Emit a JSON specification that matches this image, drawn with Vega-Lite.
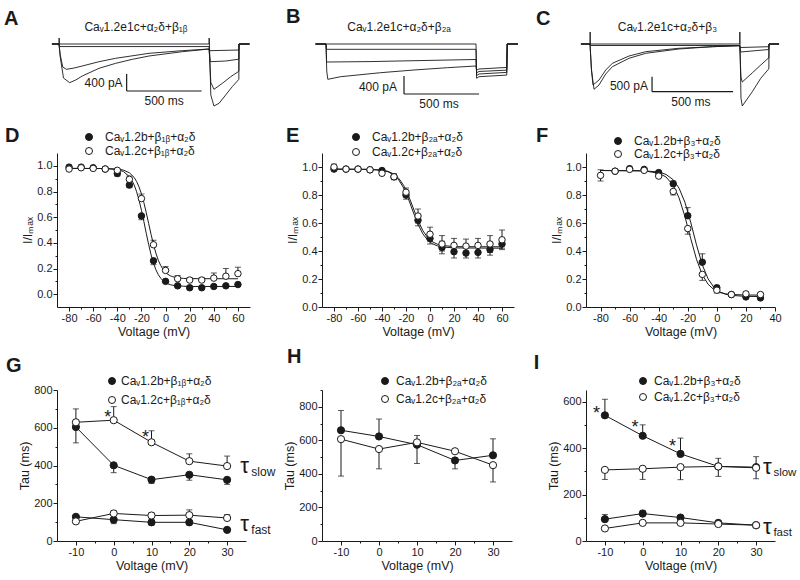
{
"$schema": "https://vega.github.io/schema/vega-lite/v6.json",
"padding": {"left": 3, "top": 7, "right": 14, "bottom": 4},
"bounds": "flush",
"columns": 3,
"spacing": {"row": 83, "column": 72},
"resolve": {"scale": {"fill": "independent"}},
"config": {
  "view": {"stroke": null},
  "font": "Liberation Sans",
  "text": {"font": "Liberation Sans", "color": "#1a1a1a"},
  "axis": {"domainColor": "#1a1a1a", "tickColor": "#1a1a1a", "labelColor": "#1a1a1a", "titleColor": "#1a1a1a", "labelFont": "Liberation Sans", "titleFont": "Liberation Sans", "labelFontSize": 11, "titleFontSize": 12.5, "titleFontWeight": "normal", "grid": false, "labelOverlap": false, "labelFlush": false, "labelPadding": 1, "titlePadding": 2},
  "legend": {"labelFont": "Liberation Sans", "labelFontSize": 12, "labelColor": "#1a1a1a", "symbolType": "circle", "symbolSize": 49, "symbolStrokeColor": "#1a1a1a", "symbolStrokeWidth": 1}
},
"datasets": {
  "trA": [
    {"tr":"a1","t":-47,"i":0},{"tr":"a1","t":0,"i":0},{"tr":"a1","t":1,"i":141},{"tr":"a1","t":2,"i":0},{"tr":"a1","t":1000,"i":0},{"tr":"a1","t":1001,"i":141},{"tr":"a1","t":1003,"i":0},{"tr":"a1","t":1012,"i":-1200},{"tr":"a1","t":1033,"i":-1457},{"tr":"a1","t":1067,"i":-1394},{"tr":"a1","t":1111,"i":-1199},{"tr":"a1","t":1155,"i":-1003},{"tr":"a1","t":1195,"i":-846},{"tr":"a1","t":1199,"i":-830},{"tr":"a1","t":1200,"i":0},{"tr":"a1","t":1270,"i":0},
    {"tr":"a2","t":-47,"i":0},{"tr":"a2","t":0,"i":0},{"tr":"a2","t":3,"i":-60},{"tr":"a2","t":1000,"i":-60},{"tr":"a2","t":1012,"i":-900},{"tr":"a2","t":1033,"i":-1065},{"tr":"a2","t":1089,"i":-924},{"tr":"a2","t":1145,"i":-768},{"tr":"a2","t":1195,"i":-651},{"tr":"a2","t":1199,"i":-640},{"tr":"a2","t":1200,"i":0},{"tr":"a2","t":1270,"i":0},
    {"tr":"a3","t":-47,"i":0},{"tr":"a3","t":0,"i":0},{"tr":"a3","t":8,"i":-250},{"tr":"a3","t":25,"i":-540},{"tr":"a3","t":49,"i":-595},{"tr":"a3","t":100,"i":-565},{"tr":"a3","t":155,"i":-517},{"tr":"a3","t":267,"i":-416},{"tr":"a3","t":378,"i":-336},{"tr":"a3","t":600,"i":-219},{"tr":"a3","t":822,"i":-157},{"tr":"a3","t":1000,"i":-118},{"tr":"a3","t":1008,"i":-416},{"tr":"a3","t":1111,"i":-400},{"tr":"a3","t":1199,"i":-357},{"tr":"a3","t":1200,"i":0},{"tr":"a3","t":1270,"i":0},
    {"tr":"a4","t":-47,"i":0},{"tr":"a4","t":0,"i":0},{"tr":"a4","t":8,"i":-300},{"tr":"a4","t":30,"i":-800},{"tr":"a4","t":71,"i":-909},{"tr":"a4","t":111,"i":-846},{"tr":"a4","t":155,"i":-752},{"tr":"a4","t":267,"i":-571},{"tr":"a4","t":378,"i":-454},{"tr":"a4","t":489,"i":-360},{"tr":"a4","t":600,"i":-282},{"tr":"a4","t":822,"i":-181},{"tr":"a4","t":1000,"i":-118},{"tr":"a4","t":1008,"i":-157},{"tr":"a4","t":1199,"i":-141},{"tr":"a4","t":1200,"i":0},{"tr":"a4","t":1270,"i":0}
  ],
  "trB": [
    {"tr":"b1","t":-70,"i":0},{"tr":"b1","t":0,"i":0},{"tr":"b1","t":1000,"i":0},{"tr":"b1","t":1004,"i":-760},{"tr":"b1","t":1020,"i":-726},{"tr":"b1","t":1205,"i":-690},{"tr":"b1","t":1208,"i":0},{"tr":"b1","t":1280,"i":0},
    {"tr":"b2","t":-70,"i":0},{"tr":"b2","t":0,"i":0},{"tr":"b2","t":3,"i":-118},{"tr":"b2","t":1000,"i":-118},{"tr":"b2","t":1004,"i":-700},{"tr":"b2","t":1020,"i":-666},{"tr":"b2","t":1205,"i":-630},{"tr":"b2","t":1208,"i":0},{"tr":"b2","t":1280,"i":0},
    {"tr":"b3","t":-70,"i":0},{"tr":"b3","t":0,"i":0},{"tr":"b3","t":4,"i":-400},{"tr":"b3","t":300,"i":-390},{"tr":"b3","t":600,"i":-370},{"tr":"b3","t":1000,"i":-344},{"tr":"b3","t":1004,"i":-640},{"tr":"b3","t":1020,"i":-610},{"tr":"b3","t":1205,"i":-580},{"tr":"b3","t":1208,"i":0},{"tr":"b3","t":1280,"i":0},
    {"tr":"b4","t":-70,"i":0},{"tr":"b4","t":0,"i":0},{"tr":"b4","t":5,"i":-600},{"tr":"b4","t":12,"i":-784},{"tr":"b4","t":98,"i":-726},{"tr":"b4","t":364,"i":-637},{"tr":"b4","t":587,"i":-577},{"tr":"b4","t":809,"i":-526},{"tr":"b4","t":1000,"i":-488},{"tr":"b4","t":1004,"i":-580},{"tr":"b4","t":1020,"i":-555},{"tr":"b4","t":1205,"i":-520},{"tr":"b4","t":1208,"i":0},{"tr":"b4","t":1280,"i":0}
  ],
  "trC": [
    {"tr":"c1","t":-56,"i":0},{"tr":"c1","t":0,"i":0},{"tr":"c1","t":1,"i":400},{"tr":"c1","t":2,"i":0},{"tr":"c1","t":924,"i":0},{"tr":"c1","t":925,"i":400},{"tr":"c1","t":926,"i":0},{"tr":"c1","t":932,"i":-1800},{"tr":"c1","t":940,"i":-2065},{"tr":"c1","t":1002,"i":-1588},{"tr":"c1","t":1054,"i":-1142},{"tr":"c1","t":1101,"i":-842},{"tr":"c1","t":1104,"i":-830},{"tr":"c1","t":1105,"i":0},{"tr":"c1","t":1167,"i":0},
    {"tr":"c2","t":-56,"i":0},{"tr":"c2","t":0,"i":0},{"tr":"c2","t":3,"i":-50},{"tr":"c2","t":924,"i":-50},{"tr":"c2","t":932,"i":-1100},{"tr":"c2","t":940,"i":-1265},{"tr":"c2","t":1002,"i":-960},{"tr":"c2","t":1054,"i":-700},{"tr":"c2","t":1101,"i":-470},{"tr":"c2","t":1104,"i":-466},{"tr":"c2","t":1105,"i":0},{"tr":"c2","t":1167,"i":0},
    {"tr":"c3","t":-56,"i":0},{"tr":"c3","t":0,"i":0},{"tr":"c3","t":8,"i":-800},{"tr":"c3","t":18.5,"i":-1365},{"tr":"c3","t":55.6,"i":-1199},{"tr":"c3","t":97,"i":-866},{"tr":"c3","t":138,"i":-643},{"tr":"c3","t":241,"i":-400},{"tr":"c3","t":344,"i":-256},{"tr":"c3","t":549,"i":-143},{"tr":"c3","t":755,"i":-90},{"tr":"c3","t":924,"i":-57},{"tr":"c3","t":930,"i":-266},{"tr":"c3","t":1104,"i":-183},{"tr":"c3","t":1105,"i":0},{"tr":"c3","t":1167,"i":0},
    {"tr":"c4","t":-56,"i":0},{"tr":"c4","t":0,"i":0},{"tr":"c4","t":10,"i":-900},{"tr":"c4","t":24.7,"i":-1508},{"tr":"c4","t":55.6,"i":-1365},{"tr":"c4","t":97,"i":-999},{"tr":"c4","t":138,"i":-756},{"tr":"c4","t":241,"i":-476},{"tr":"c4","t":344,"i":-310},{"tr":"c4","t":549,"i":-166},{"tr":"c4","t":755,"i":-90},{"tr":"c4","t":924,"i":-57},{"tr":"c4","t":930,"i":-117},{"tr":"c4","t":1104,"i":-90},{"tr":"c4","t":1105,"i":0},{"tr":"c4","t":1167,"i":0}
  ],
  "fitD": [
    {"s":"b","v":-80,"y":0.98},{"s":"b","v":-50,"y":0.979},{"s":"b","v":-40,"y":0.971},{"s":"b","v":-35,"y":0.956},{"s":"b","v":-30,"y":0.916},{"s":"b","v":-28,"y":0.888},{"s":"b","v":-26,"y":0.85},{"s":"b","v":-24,"y":0.798},{"s":"b","v":-22,"y":0.733},{"s":"b","v":-20,"y":0.654},{"s":"b","v":-18,"y":0.566},{"s":"b","v":-16,"y":0.474},{"s":"b","v":-14,"y":0.386},{"s":"b","v":-12,"y":0.307},{"s":"b","v":-10,"y":0.242},{"s":"b","v":-8,"y":0.19},{"s":"b","v":-6,"y":0.152},{"s":"b","v":-4,"y":0.124},{"s":"b","v":-2,"y":0.104},{"s":"b","v":0,"y":0.09},{"s":"b","v":2,"y":0.08},{"s":"b","v":4,"y":0.074},{"s":"b","v":6,"y":0.069},{"s":"b","v":10,"y":0.064},{"s":"b","v":15,"y":0.062},{"s":"b","v":20,"y":0.06},{"s":"b","v":60,"y":0.06},
    {"s":"c","v":-80,"y":0.98},{"s":"c","v":-50,"y":0.979},{"s":"c","v":-40,"y":0.975},{"s":"c","v":-35,"y":0.967},{"s":"c","v":-30,"y":0.946},{"s":"c","v":-26,"y":0.909},{"s":"c","v":-24,"y":0.878},{"s":"c","v":-22,"y":0.836},{"s":"c","v":-20,"y":0.781},{"s":"c","v":-18,"y":0.714},{"s":"c","v":-16,"y":0.635},{"s":"c","v":-14,"y":0.55},{"s":"c","v":-12,"y":0.465},{"s":"c","v":-10,"y":0.387},{"s":"c","v":-8,"y":0.319},{"s":"c","v":-6,"y":0.264},{"s":"c","v":-4,"y":0.223},{"s":"c","v":-2,"y":0.192},{"s":"c","v":0,"y":0.169},{"s":"c","v":2,"y":0.154},{"s":"c","v":4,"y":0.143},{"s":"c","v":6,"y":0.136},{"s":"c","v":10,"y":0.127},{"s":"c","v":15,"y":0.123},{"s":"c","v":20,"y":0.121},{"s":"c","v":60,"y":0.12}
  ],
  "ptD": [
    {"s":"b","v":-80,"y":0.99,"lo":0.99,"hi":0.99},{"s":"b","v":-70,"y":0.99,"lo":0.99,"hi":0.99},{"s":"b","v":-60,"y":0.985,"lo":0.985,"hi":0.985},{"s":"b","v":-50,"y":0.975,"lo":0.975,"hi":0.975},{"s":"b","v":-40,"y":0.94,"lo":0.92,"hi":0.94},{"s":"b","v":-30,"y":0.85,"lo":0.83,"hi":0.85},{"s":"b","v":-20,"y":0.61,"lo":0.58,"hi":0.61},{"s":"b","v":-10,"y":0.26,"lo":0.23,"hi":0.26},{"s":"b","v":0,"y":0.1,"lo":0.09,"hi":0.1},{"s":"b","v":10,"y":0.065,"lo":0.065,"hi":0.065},{"s":"b","v":20,"y":0.05,"lo":0.05,"hi":0.05},{"s":"b","v":30,"y":0.05,"lo":0.05,"hi":0.05},{"s":"b","v":40,"y":0.06,"lo":0.06,"hi":0.06},{"s":"b","v":50,"y":0.065,"lo":0.065,"hi":0.065},{"s":"b","v":60,"y":0.075,"lo":0.075,"hi":0.075},
    {"s":"c","v":-80,"y":0.975,"lo":0.975,"hi":0.975},{"s":"c","v":-70,"y":0.985,"lo":0.985,"hi":0.985},{"s":"c","v":-60,"y":0.98,"lo":0.98,"hi":0.995},{"s":"c","v":-50,"y":0.975,"lo":0.975,"hi":0.99},{"s":"c","v":-40,"y":0.965,"lo":0.965,"hi":0.98},{"s":"c","v":-30,"y":0.895,"lo":0.895,"hi":0.92},{"s":"c","v":-20,"y":0.745,"lo":0.745,"hi":0.78},{"s":"c","v":-10,"y":0.385,"lo":0.385,"hi":0.42},{"s":"c","v":0,"y":0.185,"lo":0.185,"hi":0.215},{"s":"c","v":10,"y":0.12,"lo":0.12,"hi":0.145},{"s":"c","v":20,"y":0.11,"lo":0.11,"hi":0.13},{"s":"c","v":30,"y":0.11,"lo":0.11,"hi":0.13},{"s":"c","v":40,"y":0.125,"lo":0.125,"hi":0.165},{"s":"c","v":50,"y":0.14,"lo":0.14,"hi":0.2},{"s":"c","v":60,"y":0.16,"lo":0.16,"hi":0.21}
  ],
  "fitE": [
    {"s":"b","v":-80,"y":0.985},{"s":"b","v":-50,"y":0.983},{"s":"b","v":-40,"y":0.976},{"s":"b","v":-35,"y":0.966},{"s":"b","v":-30,"y":0.942},{"s":"b","v":-26,"y":0.907},{"s":"b","v":-22,"y":0.851},{"s":"b","v":-18,"y":0.772},{"s":"b","v":-14,"y":0.679},{"s":"b","v":-10,"y":0.591},{"s":"b","v":-6,"y":0.523},{"s":"b","v":-2,"y":0.478},{"s":"b","v":2,"y":0.452},{"s":"b","v":6,"y":0.437},{"s":"b","v":10,"y":0.429},{"s":"b","v":20,"y":0.422},{"s":"b","v":60,"y":0.42},
    {"s":"c","v":-80,"y":0.985},{"s":"c","v":-50,"y":0.983},{"s":"c","v":-40,"y":0.978},{"s":"c","v":-35,"y":0.969},{"s":"c","v":-30,"y":0.949},{"s":"c","v":-26,"y":0.919},{"s":"c","v":-22,"y":0.869},{"s":"c","v":-18,"y":0.797},{"s":"c","v":-14,"y":0.708},{"s":"c","v":-10,"y":0.618},{"s":"c","v":-6,"y":0.546},{"s":"c","v":-2,"y":0.496},{"s":"c","v":2,"y":0.466},{"s":"c","v":6,"y":0.449},{"s":"c","v":10,"y":0.44},{"s":"c","v":20,"y":0.431},{"s":"c","v":60,"y":0.43}
  ],
  "ptE": [
    {"s":"b","v":-80,"y":0.985,"lo":0.985,"hi":0.985},{"s":"b","v":-70,"y":0.985,"lo":0.985,"hi":0.985},{"s":"b","v":-60,"y":0.985,"lo":0.985,"hi":0.985},{"s":"b","v":-50,"y":0.98,"lo":0.98,"hi":0.98},{"s":"b","v":-40,"y":0.975,"lo":0.975,"hi":0.975},{"s":"b","v":-30,"y":0.93,"lo":0.91,"hi":0.95},{"s":"b","v":-20,"y":0.8,"lo":0.77,"hi":0.83},{"s":"b","v":-10,"y":0.62,"lo":0.58,"hi":0.66},{"s":"b","v":0,"y":0.49,"lo":0.45,"hi":0.53},{"s":"b","v":10,"y":0.425,"lo":0.38,"hi":0.47},{"s":"b","v":20,"y":0.395,"lo":0.35,"hi":0.44},{"s":"b","v":30,"y":0.385,"lo":0.35,"hi":0.43},{"s":"b","v":40,"y":0.39,"lo":0.35,"hi":0.43},{"s":"b","v":50,"y":0.41,"lo":0.37,"hi":0.45},{"s":"b","v":60,"y":0.45,"lo":0.41,"hi":0.49},
    {"s":"c","v":-80,"y":1.0,"lo":0.98,"hi":1.02},{"s":"c","v":-70,"y":0.985,"lo":0.985,"hi":0.985},{"s":"c","v":-60,"y":0.985,"lo":0.985,"hi":0.985},{"s":"c","v":-50,"y":0.98,"lo":0.98,"hi":0.98},{"s":"c","v":-40,"y":0.955,"lo":0.94,"hi":0.97},{"s":"c","v":-30,"y":0.93,"lo":0.91,"hi":0.95},{"s":"c","v":-20,"y":0.82,"lo":0.79,"hi":0.85},{"s":"c","v":-10,"y":0.65,"lo":0.6,"hi":0.7},{"s":"c","v":0,"y":0.52,"lo":0.47,"hi":0.57},{"s":"c","v":10,"y":0.45,"lo":0.4,"hi":0.51},{"s":"c","v":20,"y":0.44,"lo":0.39,"hi":0.49},{"s":"c","v":30,"y":0.435,"lo":0.385,"hi":0.485},{"s":"c","v":40,"y":0.44,"lo":0.39,"hi":0.49},{"s":"c","v":50,"y":0.45,"lo":0.39,"hi":0.51},{"s":"c","v":60,"y":0.48,"lo":0.42,"hi":0.55}
  ],
  "fitF": [
    {"s":"b","v":-80,"y":0.975},{"s":"b","v":-50,"y":0.973},{"s":"b","v":-40,"y":0.964},{"s":"b","v":-35,"y":0.947},{"s":"b","v":-30,"y":0.909},{"s":"b","v":-26,"y":0.849},{"s":"b","v":-22,"y":0.749},{"s":"b","v":-18,"y":0.606},{"s":"b","v":-14,"y":0.444},{"s":"b","v":-10,"y":0.301},{"s":"b","v":-6,"y":0.201},{"s":"b","v":-2,"y":0.14},{"s":"b","v":2,"y":0.108},{"s":"b","v":6,"y":0.091},{"s":"b","v":10,"y":0.083},{"s":"b","v":20,"y":0.076},{"s":"b","v":30,"y":0.075},
    {"s":"c","v":-80,"y":0.975},{"s":"c","v":-50,"y":0.972},{"s":"c","v":-40,"y":0.956},{"s":"c","v":-35,"y":0.929},{"s":"c","v":-30,"y":0.869},{"s":"c","v":-26,"y":0.78},{"s":"c","v":-22,"y":0.648},{"s":"c","v":-18,"y":0.49},{"s":"c","v":-14,"y":0.341},{"s":"c","v":-10,"y":0.23},{"s":"c","v":-6,"y":0.162},{"s":"c","v":-2,"y":0.124},{"s":"c","v":2,"y":0.104},{"s":"c","v":6,"y":0.094},{"s":"c","v":10,"y":0.0895},{"s":"c","v":20,"y":0.0855},{"s":"c","v":30,"y":0.085}
  ],
  "ptF": [
    {"s":"b","v":-70,"y":0.97,"lo":0.97,"hi":0.97},{"s":"b","v":-60,"y":0.988,"lo":0.988,"hi":0.988},{"s":"b","v":-50,"y":0.983,"lo":0.983,"hi":0.983},{"s":"b","v":-40,"y":0.96,"lo":0.96,"hi":0.96},{"s":"b","v":-30,"y":0.88,"lo":0.88,"hi":0.9},{"s":"b","v":-20,"y":0.652,"lo":0.652,"hi":0.71},{"s":"b","v":-10,"y":0.32,"lo":0.32,"hi":0.38},{"s":"b","v":0,"y":0.137,"lo":0.137,"hi":0.155},{"s":"b","v":10,"y":0.089,"lo":0.089,"hi":0.089},{"s":"b","v":20,"y":0.072,"lo":0.072,"hi":0.072},{"s":"b","v":30,"y":0.065,"lo":0.065,"hi":0.065},
    {"s":"c","v":-80,"y":0.94,"lo":0.9,"hi":0.98},{"s":"c","v":-70,"y":0.97,"lo":0.97,"hi":0.97},{"s":"c","v":-60,"y":0.983,"lo":0.983,"hi":0.983},{"s":"c","v":-50,"y":0.976,"lo":0.976,"hi":0.976},{"s":"c","v":-40,"y":0.935,"lo":0.935,"hi":0.935},{"s":"c","v":-30,"y":0.825,"lo":0.8,"hi":0.825},{"s":"c","v":-20,"y":0.56,"lo":0.52,"hi":0.56},{"s":"c","v":-10,"y":0.233,"lo":0.19,"hi":0.233},{"s":"c","v":0,"y":0.12,"lo":0.1,"hi":0.12},{"s":"c","v":10,"y":0.089,"lo":0.089,"hi":0.089},{"s":"c","v":20,"y":0.094,"lo":0.094,"hi":0.11},{"s":"c","v":30,"y":0.089,"lo":0.089,"hi":0.1}
  ],
  "tauG": [
    {"s":"b","k":"slow","v":-10,"y":604,"lo":520,"hi":604},{"s":"b","k":"slow","v":0,"y":401,"lo":362,"hi":401},{"s":"b","k":"slow","v":10,"y":325,"lo":305,"hi":325},{"s":"b","k":"slow","v":20,"y":351,"lo":322,"hi":351},{"s":"b","k":"slow","v":30,"y":324,"lo":300,"hi":324},
    {"s":"c","k":"slow","v":-10,"y":629,"lo":629,"hi":700},{"s":"c","k":"slow","v":0,"y":640,"lo":640,"hi":712},{"s":"c","k":"slow","v":10,"y":523,"lo":523,"hi":584},{"s":"c","k":"slow","v":20,"y":423,"lo":423,"hi":462},{"s":"c","k":"slow","v":30,"y":397,"lo":397,"hi":450},
    {"s":"b","k":"fast","v":-10,"y":128,"lo":128,"hi":128},{"s":"b","k":"fast","v":0,"y":113,"lo":92,"hi":113},{"s":"b","k":"fast","v":10,"y":99,"lo":85,"hi":99},{"s":"b","k":"fast","v":20,"y":99,"lo":85,"hi":99},{"s":"b","k":"fast","v":30,"y":59,"lo":59,"hi":59},
    {"s":"c","k":"fast","v":-10,"y":104,"lo":104,"hi":104},{"s":"c","k":"fast","v":0,"y":146,"lo":146,"hi":160},{"s":"c","k":"fast","v":10,"y":135,"lo":135,"hi":148},{"s":"c","k":"fast","v":20,"y":137,"lo":137,"hi":165},{"s":"c","k":"fast","v":30,"y":122,"lo":122,"hi":140}
  ],
  "tauH": [
    {"s":"b","k":"slow","v":-10,"y":660,"lo":660,"hi":778},{"s":"b","k":"slow","v":0,"y":623,"lo":623,"hi":727},{"s":"b","k":"slow","v":10,"y":574,"lo":462,"hi":574},{"s":"b","k":"slow","v":20,"y":480,"lo":430,"hi":480},{"s":"b","k":"slow","v":30,"y":511,"lo":511,"hi":609},
    {"s":"c","k":"slow","v":-10,"y":607,"lo":387,"hi":607},{"s":"c","k":"slow","v":0,"y":548,"lo":430,"hi":548},{"s":"c","k":"slow","v":10,"y":588,"lo":588,"hi":629},{"s":"c","k":"slow","v":20,"y":535,"lo":535,"hi":535},{"s":"c","k":"slow","v":30,"y":452,"lo":352,"hi":452}
  ],
  "tauI": [
    {"s":"b","k":"slow","v":-10,"y":541,"lo":541,"hi":610},{"s":"b","k":"slow","v":0,"y":453,"lo":453,"hi":500},{"s":"b","k":"slow","v":10,"y":375,"lo":375,"hi":443},{"s":"b","k":"slow","v":20,"y":321,"lo":321,"hi":321},{"s":"b","k":"slow","v":30,"y":318,"lo":318,"hi":318},
    {"s":"c","k":"slow","v":-10,"y":306,"lo":265,"hi":306},{"s":"c","k":"slow","v":0,"y":311,"lo":265,"hi":311},{"s":"c","k":"slow","v":10,"y":318,"lo":264,"hi":318},{"s":"c","k":"slow","v":20,"y":321,"lo":278,"hi":356},{"s":"c","k":"slow","v":30,"y":315,"lo":268,"hi":363},
    {"s":"b","k":"fast","v":-10,"y":94,"lo":94,"hi":114},{"s":"b","k":"fast","v":0,"y":118,"lo":118,"hi":132},{"s":"b","k":"fast","v":10,"y":101,"lo":101,"hi":108},{"s":"b","k":"fast","v":20,"y":78,"lo":78,"hi":78},{"s":"b","k":"fast","v":30,"y":68,"lo":68,"hi":68},
    {"s":"c","k":"fast","v":-10,"y":54,"lo":54,"hi":54},{"s":"c","k":"fast","v":0,"y":78,"lo":78,"hi":78},{"s":"c","k":"fast","v":10,"y":78,"lo":78,"hi":78},{"s":"c","k":"fast","v":20,"y":73,"lo":73,"hi":73},{"s":"c","k":"fast","v":30,"y":68,"lo":68,"hi":68}
  ]
},
"concat": [
  {
    "width": 193, "height": 30,
    "encoding": {
      "x": {"field": "t", "type": "quantitative", "scale": {"domain": [-13.33, 1273.33], "nice": false, "zero": false}, "axis": null},
      "y": {"field": "i", "type": "quantitative", "scale": {"domain": [-611, 94], "nice": false, "zero": false}, "axis": null}
    },
    "layer": [
      {"data": {"name": "trA"}, "mark": {"type": "line", "stroke": "#1a1a1a", "strokeWidth": 0.9}, "encoding": {"detail": {"field": "tr"}}},
      {"data": {"values": [{"t": 451, "t2": 451, "i": -705, "i2": -1105}, {"t": 451, "t2": 951, "i": -1105, "i2": -1105}]}, "mark": {"type": "rule", "stroke": "#1a1a1a", "strokeWidth": 1.2}, "encoding": {"x2": {"field": "t2"}, "y2": {"field": "i2"}}},
      {"data": {"values": [{"t": 513, "i": 400, "txt": "Caᵥ1.2e1c+α₂δ+β₁ᵦ"}, {"t": 701, "i": -1351, "txt": "500 ms"}]}, "mark": {"type": "text", "align": "center", "baseline": "middle", "fontSize": 12}, "encoding": {"text": {"field": "txt"}}},
      {"data": {"values": [{"t": 424, "i": -928, "txt": "400 pA"}]}, "mark": {"type": "text", "align": "right", "baseline": "middle", "fontSize": 12}, "encoding": {"text": {"field": "txt"}}},
      {"data": {"values": [{"t": -366.7, "i": 446.5, "txt": "A"}]}, "mark": {"type": "text", "align": "left", "baseline": "alphabetic", "fontSize": 20, "fontWeight": "bold"}, "encoding": {"text": {"field": "txt"}}}
    ]
  },
  {
    "width": 192, "height": 30,
    "encoding": {
      "x": {"field": "t", "type": "quantitative", "scale": {"domain": [-26.67, 1253.33], "nice": false, "zero": false}, "axis": null},
      "y": {"field": "i", "type": "quantitative", "scale": {"domain": [-577.2, 88.8], "nice": false, "zero": false}, "axis": null}
    },
    "layer": [
      {"data": {"name": "trB"}, "mark": {"type": "line", "stroke": "#1a1a1a", "strokeWidth": 0.9}, "encoding": {"detail": {"field": "tr"}}},
      {"data": {"values": [{"t": 520, "t2": 520, "i": -710, "i2": -1110}, {"t": 520, "t2": 1020, "i": -1110, "i2": -1110}]}, "mark": {"type": "rule", "stroke": "#1a1a1a", "strokeWidth": 1.2}, "encoding": {"x2": {"field": "t2"}, "y2": {"field": "i2"}}},
      {"data": {"values": [{"t": 487, "i": 377, "txt": "Caᵥ1.2e1c+α₂δ+β₂ₐ"}, {"t": 753, "i": -1332, "txt": "500 ms"}]}, "mark": {"type": "text", "align": "center", "baseline": "middle", "fontSize": 12}, "encoding": {"text": {"field": "txt"}}},
      {"data": {"values": [{"t": 473, "i": -955, "txt": "400 pA"}]}, "mark": {"type": "text", "align": "right", "baseline": "middle", "fontSize": 12}, "encoding": {"text": {"field": "txt"}}},
      {"data": {"values": [{"t": -266.7, "i": 466, "txt": "B"}]}, "mark": {"type": "text", "align": "left", "baseline": "alphabetic", "fontSize": 20, "fontWeight": "bold"}, "encoding": {"text": {"field": "txt"}}}
    ]
  },
  {
    "width": 189, "height": 30,
    "encoding": {
      "x": {"field": "t", "type": "quantitative", "scale": {"domain": [-24.69, 1141.98], "nice": false, "zero": false}, "axis": null},
      "y": {"field": "i", "type": "quantitative", "scale": {"domain": [-865.8, 133.2], "nice": false, "zero": false}, "axis": null}
    },
    "layer": [
      {"data": {"name": "trC"}, "mark": {"type": "line", "stroke": "#1a1a1a", "strokeWidth": 0.9}, "encoding": {"detail": {"field": "tr"}}},
      {"data": {"values": [{"t": 383, "t2": 383, "i": -1089, "i2": -1588}, {"t": 383, "t2": 883, "i": -1588, "i2": -1588}]}, "mark": {"type": "rule", "stroke": "#1a1a1a", "strokeWidth": 1.2}, "encoding": {"x2": {"field": "t2"}, "y2": {"field": "i2"}}},
      {"data": {"values": [{"t": 478, "i": 566, "txt": "Caᵥ1.2e1c+α₂δ+β₃"}, {"t": 623, "i": -1931, "txt": "500 ms"}]}, "mark": {"type": "text", "align": "center", "baseline": "middle", "fontSize": 12}, "encoding": {"text": {"field": "txt"}}},
      {"data": {"values": [{"t": 358, "i": -1382, "txt": "500 pA"}]}, "mark": {"type": "text", "align": "right", "baseline": "middle", "fontSize": 12}, "encoding": {"text": {"field": "txt"}}},
      {"data": {"values": [{"t": -333.3, "i": 633, "txt": "C"}]}, "mark": {"type": "text", "align": "left", "baseline": "alphabetic", "fontSize": 20, "fontWeight": "bold"}, "encoding": {"text": {"field": "txt"}}}
    ]
  },
  {
    "width": 193, "height": 154,
    "encoding": {
      "x": {"field": "v", "type": "quantitative", "scale": {"domain": [-90, 70], "nice": false, "zero": false},
            "axis": {"title": "Voltage (mV)", "values": [-80,-70,-60,-50,-40,-30,-20,-10,0,10,20,30,40,50,60], "labelExpr": "datum.value % 20 === 0 ? '' + datum.value : ''", "tickSize": {"condition": {"test": "datum.value % 20 === 0", "value": 4}, "value": 2}}},
      "y": {"field": "y", "type": "quantitative", "scale": {"domain": [-0.1, 1.1], "nice": false, "zero": false},
            "axis": {"title": "I/Iₘₐₓ", "values": [0,0.1,0.2,0.3,0.4,0.5,0.6,0.7,0.8,0.9,1.0], "labelExpr": "round(datum.value*10) % 2 === 0 ? format(datum.value, '.1f') : ''", "tickSize": {"condition": {"test": "round(datum.value*10) % 2 === 0", "value": 4}, "value": 2}}}
    },
    "layer": [
      {"data": {"name": "fitD"}, "mark": {"type": "line", "stroke": "#1a1a1a", "strokeWidth": 1}, "encoding": {"detail": {"field": "s"}}},
      {"data": {"name": "ptD"}, "mark": {"type": "rule", "stroke": "#1a1a1a", "strokeWidth": 1}, "encoding": {"y": {"field": "lo", "type": "quantitative", "scale": {"domain": [-0.1, 1.1], "nice": false, "zero": false}}, "y2": {"field": "hi"}}},
      {"data": {"name": "ptD"}, "mark": {"type": "point", "shape": "M-1,0L1,0", "size": 36, "filled": false, "color": "#1a1a1a", "strokeWidth": 1}, "encoding": {"y": {"field": "hi", "type": "quantitative", "scale": {"domain": [-0.1, 1.1], "nice": false, "zero": false}}}},
      {"data": {"name": "ptD"}, "mark": {"type": "point", "shape": "M-1,0L1,0", "size": 36, "filled": false, "color": "#1a1a1a", "strokeWidth": 1}, "encoding": {"y": {"field": "lo", "type": "quantitative", "scale": {"domain": [-0.1, 1.1], "nice": false, "zero": false}}}},
      {"data": {"name": "ptD"}, "mark": {"type": "point", "filled": true, "size": 42, "stroke": "#1a1a1a", "strokeWidth": 1, "opacity": 1},
       "encoding": {"fill": {"field": "s", "type": "nominal", "scale": {"domain": ["b", "c"], "range": ["#1a1a1a", "#ffffff"]},
         "legend": {"orient": "none", "legendX": 26, "legendY": -22, "title": null, "rowPadding": 2, "labelOffset": 10, "labelExpr": "datum.value == 'b' ? 'Caᵥ1.2b+β₁ᵦ+α₂δ' : 'Caᵥ1.2c+β₁ᵦ+α₂δ'"}}}},
      {"data": {"values": [{"v": -133.1, "y": 1.186, "txt": "D"}]}, "mark": {"type": "text", "align": "left", "baseline": "alphabetic", "fontSize": 20, "fontWeight": "bold"}, "encoding": {"text": {"field": "txt"}}}
    ]
  },
  {
    "width": 192, "height": 154,
    "encoding": {
      "x": {"field": "v", "type": "quantitative", "scale": {"domain": [-90, 70], "nice": false, "zero": false},
            "axis": {"title": "Voltage (mV)", "values": [-80,-70,-60,-50,-40,-30,-20,-10,0,10,20,30,40,50,60], "labelExpr": "datum.value % 20 === 0 ? '' + datum.value : ''", "tickSize": {"condition": {"test": "datum.value % 20 === 0", "value": 4}, "value": 2}}},
      "y": {"field": "y", "type": "quantitative", "scale": {"domain": [0, 1.1], "nice": false, "zero": false},
            "axis": {"title": "I/Iₘₐₓ", "values": [0,0.1,0.2,0.3,0.4,0.5,0.6,0.7,0.8,0.9,1.0], "labelExpr": "round(datum.value*10) % 2 === 0 ? format(datum.value, '.1f') : ''", "tickSize": {"condition": {"test": "round(datum.value*10) % 2 === 0", "value": 4}, "value": 2}}}
    },
    "layer": [
      {"data": {"name": "fitE"}, "mark": {"type": "line", "stroke": "#1a1a1a", "strokeWidth": 1}, "encoding": {"detail": {"field": "s"}}},
      {"data": {"name": "ptE"}, "mark": {"type": "rule", "stroke": "#1a1a1a", "strokeWidth": 1}, "encoding": {"y": {"field": "lo", "type": "quantitative", "scale": {"domain": [0, 1.1], "nice": false, "zero": false}}, "y2": {"field": "hi"}}},
      {"data": {"name": "ptE"}, "mark": {"type": "point", "shape": "M-1,0L1,0", "size": 36, "filled": false, "color": "#1a1a1a", "strokeWidth": 1}, "encoding": {"y": {"field": "hi", "type": "quantitative", "scale": {"domain": [0, 1.1], "nice": false, "zero": false}}}},
      {"data": {"name": "ptE"}, "mark": {"type": "point", "shape": "M-1,0L1,0", "size": 36, "filled": false, "color": "#1a1a1a", "strokeWidth": 1}, "encoding": {"y": {"field": "lo", "type": "quantitative", "scale": {"domain": [0, 1.1], "nice": false, "zero": false}}}},
      {"data": {"name": "ptE"}, "mark": {"type": "point", "filled": true, "size": 42, "stroke": "#1a1a1a", "strokeWidth": 1, "opacity": 1},
       "encoding": {"fill": {"field": "s", "type": "nominal", "scale": {"domain": ["b", "c"], "range": ["#1a1a1a", "#ffffff"]},
         "legend": {"orient": "none", "legendX": 28, "legendY": -22, "title": null, "rowPadding": 3, "labelOffset": 10, "labelExpr": "datum.value == 'b' ? 'Caᵥ1.2b+β₂ₐ+α₂δ' : 'Caᵥ1.2c+β₂ₐ+α₂δ'"}}}},
      {"data": {"values": [{"v": -120, "y": 1.179, "txt": "E"}]}, "mark": {"type": "text", "align": "left", "baseline": "alphabetic", "fontSize": 20, "fontWeight": "bold"}, "encoding": {"text": {"field": "txt"}}}
    ]
  },
  {
    "width": 189, "height": 154,
    "encoding": {
      "x": {"field": "v", "type": "quantitative", "scale": {"domain": [-90, 40], "nice": false, "zero": false},
            "axis": {"title": "Voltage (mV)", "values": [-80,-70,-60,-50,-40,-30,-20,-10,0,10,20,30,40], "labelExpr": "datum.value % 20 === 0 ? '' + datum.value : ''", "tickSize": {"condition": {"test": "datum.value % 20 === 0", "value": 4}, "value": 2}}},
      "y": {"field": "y", "type": "quantitative", "scale": {"domain": [0, 1.1], "nice": false, "zero": false},
            "axis": {"title": "I/Iₘₐₓ", "values": [0,0.1,0.2,0.3,0.4,0.5,0.6,0.7,0.8,0.9,1.0], "labelExpr": "round(datum.value*10) % 2 === 0 ? format(datum.value, '.1f') : ''", "tickSize": {"condition": {"test": "round(datum.value*10) % 2 === 0", "value": 4}, "value": 2}}}
    },
    "layer": [
      {"data": {"name": "fitF"}, "mark": {"type": "line", "stroke": "#1a1a1a", "strokeWidth": 1}, "encoding": {"detail": {"field": "s"}}},
      {"data": {"name": "ptF"}, "mark": {"type": "rule", "stroke": "#1a1a1a", "strokeWidth": 1}, "encoding": {"y": {"field": "lo", "type": "quantitative", "scale": {"domain": [0, 1.1], "nice": false, "zero": false}}, "y2": {"field": "hi"}}},
      {"data": {"name": "ptF"}, "mark": {"type": "point", "shape": "M-1,0L1,0", "size": 36, "filled": false, "color": "#1a1a1a", "strokeWidth": 1}, "encoding": {"y": {"field": "hi", "type": "quantitative", "scale": {"domain": [0, 1.1], "nice": false, "zero": false}}}},
      {"data": {"name": "ptF"}, "mark": {"type": "point", "shape": "M-1,0L1,0", "size": 36, "filled": false, "color": "#1a1a1a", "strokeWidth": 1}, "encoding": {"y": {"field": "lo", "type": "quantitative", "scale": {"domain": [0, 1.1], "nice": false, "zero": false}}}},
      {"data": {"name": "ptF"}, "mark": {"type": "point", "filled": true, "size": 42, "stroke": "#1a1a1a", "strokeWidth": 1, "opacity": 1},
       "encoding": {"fill": {"field": "s", "type": "nominal", "scale": {"domain": ["b", "c"], "range": ["#1a1a1a", "#ffffff"]},
         "legend": {"orient": "none", "legendX": 26, "legendY": -18, "title": null, "rowPadding": 1, "labelOffset": 10, "labelExpr": "datum.value == 'b' ? 'Caᵥ1.2b+β₃+α₂δ' : 'Caᵥ1.2c+β₃+α₂δ'"}}}},
      {"data": {"values": [{"v": -124.4, "y": 1.179, "txt": "F"}]}, "mark": {"type": "text", "align": "left", "baseline": "alphabetic", "fontSize": 20, "fontWeight": "bold"}, "encoding": {"text": {"field": "txt"}}}
    ]
  },
  {
    "width": 189, "height": 151,
    "encoding": {
      "x": {"field": "v", "type": "quantitative", "scale": {"domain": [-15, 35], "nice": false, "zero": false},
            "axis": {"title": "Voltage (mV)", "values": [-10,-5,0,5,10,15,20,25,30], "labelExpr": "datum.value % 10 === 0 ? '' + datum.value : ''", "tickSize": {"condition": {"test": "datum.value % 10 === 0", "value": 4}, "value": 2}}},
      "y": {"field": "y", "type": "quantitative", "scale": {"domain": [0, 800], "nice": false, "zero": false},
            "axis": {"title": "Tau (ms)", "values": [0,100,200,300,400,500,600,700,800], "labelExpr": "datum.value % 200 === 0 ? '' + datum.value : ''", "tickSize": {"condition": {"test": "datum.value % 200 === 0", "value": 4}, "value": 2}}}
    },
    "layer": [
      {"data": {"name": "tauG"}, "mark": {"type": "line", "stroke": "#1a1a1a", "strokeWidth": 1}, "encoding": {"detail": [{"field": "s"}, {"field": "k"}]}},
      {"data": {"name": "tauG"}, "mark": {"type": "rule", "stroke": "#1a1a1a", "strokeWidth": 1}, "encoding": {"y": {"field": "lo", "type": "quantitative", "scale": {"domain": [0, 800], "nice": false, "zero": false}}, "y2": {"field": "hi"}}},
      {"data": {"name": "tauG"}, "mark": {"type": "point", "shape": "M-1,0L1,0", "size": 36, "filled": false, "color": "#1a1a1a", "strokeWidth": 1}, "encoding": {"y": {"field": "hi", "type": "quantitative", "scale": {"domain": [0, 800], "nice": false, "zero": false}}}},
      {"data": {"name": "tauG"}, "mark": {"type": "point", "shape": "M-1,0L1,0", "size": 36, "filled": false, "color": "#1a1a1a", "strokeWidth": 1}, "encoding": {"y": {"field": "lo", "type": "quantitative", "scale": {"domain": [0, 800], "nice": false, "zero": false}}}},
      {"data": {"name": "tauG"}, "mark": {"type": "point", "filled": true, "size": 52, "stroke": "#1a1a1a", "strokeWidth": 1, "opacity": 1},
       "encoding": {"fill": {"field": "s", "type": "nominal", "scale": {"domain": ["b", "c"], "range": ["#1a1a1a", "#ffffff"]},
         "legend": {"orient": "none", "legendX": 49, "legendY": -15, "title": null, "rowPadding": 7, "labelOffset": 3, "labelExpr": "datum.value == 'b' ? 'Caᵥ1.2b+β₁ᵦ+α₂δ' : 'Caᵥ1.2c+β₁ᵦ+α₂δ'"}}}},
      {"data": {"values": [{"v": -1.6, "y": 680, "txt": "*"}, {"v": 8.4, "y": 572, "txt": "*"}]}, "mark": {"type": "text", "fontSize": 18, "align": "center", "baseline": "middle", "dy": 5}, "encoding": {"text": {"field": "txt"}}},
      {"data": {"values": [{"v": 33.5, "y": 395, "sub": "slow"}, {"v": 33.5, "y": 92, "sub": "fast"}]}, "mark": {"type": "text", "text": "τ", "fontSize": 22, "align": "left", "baseline": "middle"}},
      {"data": {"values": [{"v": 33.5, "y": 395, "sub": "slow"}, {"v": 33.5, "y": 92, "sub": "fast"}]}, "mark": {"type": "text", "fontSize": 12, "align": "left", "baseline": "middle", "dx": 11, "dy": 6}, "encoding": {"text": {"field": "sub"}}},
      {"data": {"values": [{"v": -28.5, "y": 895, "txt": "G"}]}, "mark": {"type": "text", "align": "left", "baseline": "alphabetic", "fontSize": 20, "fontWeight": "bold"}, "encoding": {"text": {"field": "txt"}}}
    ]
  },
  {
    "width": 190, "height": 151,
    "encoding": {
      "x": {"field": "v", "type": "quantitative", "scale": {"domain": [-15, 35], "nice": false, "zero": false},
            "axis": {"title": "Voltage (mV)", "values": [-10,-5,0,5,10,15,20,25,30], "labelExpr": "datum.value % 10 === 0 ? '' + datum.value : ''", "tickSize": {"condition": {"test": "datum.value % 10 === 0", "value": 4}, "value": 2}}},
      "y": {"field": "y", "type": "quantitative", "scale": {"domain": [0, 900], "nice": false, "zero": false},
            "axis": {"title": "Tau (ms)", "values": [0,100,200,300,400,500,600,700,800,900], "labelExpr": "datum.value % 200 === 0 ? '' + datum.value : ''", "tickSize": {"condition": {"test": "datum.value % 200 === 0", "value": 4}, "value": 2}}}
    },
    "layer": [
      {"data": {"name": "tauH"}, "mark": {"type": "line", "stroke": "#1a1a1a", "strokeWidth": 1}, "encoding": {"detail": [{"field": "s"}, {"field": "k"}]}},
      {"data": {"name": "tauH"}, "mark": {"type": "rule", "stroke": "#1a1a1a", "strokeWidth": 1}, "encoding": {"y": {"field": "lo", "type": "quantitative", "scale": {"domain": [0, 900], "nice": false, "zero": false}}, "y2": {"field": "hi"}}},
      {"data": {"name": "tauH"}, "mark": {"type": "point", "shape": "M-1,0L1,0", "size": 36, "filled": false, "color": "#1a1a1a", "strokeWidth": 1}, "encoding": {"y": {"field": "hi", "type": "quantitative", "scale": {"domain": [0, 900], "nice": false, "zero": false}}}},
      {"data": {"name": "tauH"}, "mark": {"type": "point", "shape": "M-1,0L1,0", "size": 36, "filled": false, "color": "#1a1a1a", "strokeWidth": 1}, "encoding": {"y": {"field": "lo", "type": "quantitative", "scale": {"domain": [0, 900], "nice": false, "zero": false}}}},
      {"data": {"name": "tauH"}, "mark": {"type": "point", "filled": true, "size": 52, "stroke": "#1a1a1a", "strokeWidth": 1, "opacity": 1},
       "encoding": {"fill": {"field": "s", "type": "nominal", "scale": {"domain": ["b", "c"], "range": ["#1a1a1a", "#ffffff"]},
         "legend": {"orient": "none", "legendX": 57, "legendY": -15, "title": null, "rowPadding": 6, "labelOffset": 5, "labelExpr": "datum.value == 'b' ? 'Caᵥ1.2b+β₂ₐ+α₂δ' : 'Caᵥ1.2c+β₂ₐ+α₂δ'"}}}},
      {"data": {"values": [{"v": -24.2, "y": 1061, "txt": "H"}]}, "mark": {"type": "text", "align": "left", "baseline": "alphabetic", "fontSize": 20, "fontWeight": "bold"}, "encoding": {"text": {"field": "txt"}}}
    ]
  },
  {
    "width": 189, "height": 151,
    "encoding": {
      "x": {"field": "v", "type": "quantitative", "scale": {"domain": [-15, 35], "nice": false, "zero": false},
            "axis": {"title": "Voltage (mV)", "values": [-10,-5,0,5,10,15,20,25,30], "labelExpr": "datum.value % 10 === 0 ? '' + datum.value : ''", "tickSize": {"condition": {"test": "datum.value % 10 === 0", "value": 4}, "value": 2}}},
      "y": {"field": "y", "type": "quantitative", "scale": {"domain": [0, 650], "nice": false, "zero": false},
            "axis": {"title": "Tau (ms)", "values": [0,100,200,300,400,500,600], "labelExpr": "datum.value % 200 === 0 ? '' + datum.value : ''", "tickSize": {"condition": {"test": "datum.value % 200 === 0", "value": 4}, "value": 2}}}
    },
    "layer": [
      {"data": {"name": "tauI"}, "mark": {"type": "line", "stroke": "#1a1a1a", "strokeWidth": 1}, "encoding": {"detail": [{"field": "s"}, {"field": "k"}]}},
      {"data": {"name": "tauI"}, "mark": {"type": "rule", "stroke": "#1a1a1a", "strokeWidth": 1}, "encoding": {"y": {"field": "lo", "type": "quantitative", "scale": {"domain": [0, 650], "nice": false, "zero": false}}, "y2": {"field": "hi"}}},
      {"data": {"name": "tauI"}, "mark": {"type": "point", "shape": "M-1,0L1,0", "size": 36, "filled": false, "color": "#1a1a1a", "strokeWidth": 1}, "encoding": {"y": {"field": "hi", "type": "quantitative", "scale": {"domain": [0, 650], "nice": false, "zero": false}}}},
      {"data": {"name": "tauI"}, "mark": {"type": "point", "shape": "M-1,0L1,0", "size": 36, "filled": false, "color": "#1a1a1a", "strokeWidth": 1}, "encoding": {"y": {"field": "lo", "type": "quantitative", "scale": {"domain": [0, 650], "nice": false, "zero": false}}}},
      {"data": {"name": "tauI"}, "mark": {"type": "point", "filled": true, "size": 52, "stroke": "#1a1a1a", "strokeWidth": 1, "opacity": 1},
       "encoding": {"fill": {"field": "s", "type": "nominal", "scale": {"domain": ["b", "c"], "range": ["#1a1a1a", "#ffffff"]},
         "legend": {"orient": "none", "legendX": 51, "legendY": -15, "title": null, "rowPadding": 4, "labelOffset": 5, "labelExpr": "datum.value == 'b' ? 'Caᵥ1.2b+β₃+α₂δ' : 'Caᵥ1.2c+β₃+α₂δ'"}}}},
      {"data": {"values": [{"v": -12.2, "y": 567, "txt": "*"}, {"v": -2.05, "y": 506, "txt": "*"}, {"v": 7.9, "y": 427, "txt": "*"}]}, "mark": {"type": "text", "fontSize": 18, "align": "center", "baseline": "middle", "dy": 5}, "encoding": {"text": {"field": "txt"}}},
      {"data": {"values": [{"v": 31.8, "y": 318, "sub": "slow"}, {"v": 31.8, "y": 60, "sub": "fast"}]}, "mark": {"type": "text", "text": "τ", "fontSize": 22, "align": "left", "baseline": "middle"}},
      {"data": {"values": [{"v": 31.8, "y": 318, "sub": "slow"}, {"v": 31.8, "y": 60, "sub": "fast"}]}, "mark": {"type": "text", "fontSize": 11.5, "align": "left", "baseline": "middle", "dx": 10.5, "dy": 6}, "encoding": {"text": {"field": "sub"}}},
      {"data": {"values": [{"v": -28.8, "y": 740, "txt": "I"}]}, "mark": {"type": "text", "align": "left", "baseline": "alphabetic", "fontSize": 20, "fontWeight": "bold"}, "encoding": {"text": {"field": "txt"}}}
    ]
  }
]
}
